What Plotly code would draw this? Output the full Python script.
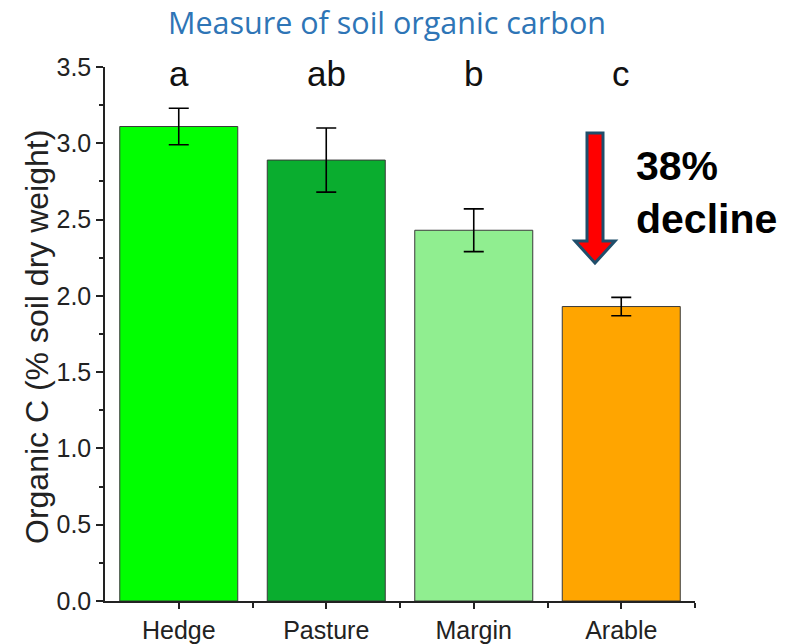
import plotly.graph_objects as go

categories = ["Hedge", "Pasture", "Margin", "Arable"]
values = [3.11, 2.89, 2.43, 1.93]
errors = [0.12, 0.21, 0.14, 0.06]
letters = ["a", "ab", "b", "c"]
colors = ["#00FF00", "#0AAD2F", "#90EE90", "#FFA500"]
y_ticks = [0.0, 0.5, 1.0, 1.5, 2.0, 2.5, 3.0, 3.5]

W, H = 785, 644
# target plot area in pixels: x 105..695, y 67..601
L, R, T, B = 105, W - 695, 67, H - 601
PW, PH = W - L - R, H - T - B

def px(xs_):
    return (xs_ - L) / PW

def py(ys_):
    return (H - B - ys_) / PH

xs = list(range(len(categories)))

fig = go.Figure()
fig.add_trace(go.Bar(
    x=xs, y=values, width=0.8,
    marker=dict(color=colors, line=dict(color="#3a3a3a", width=1)),
    error_y=dict(type="data", array=errors, visible=True, color="black",
                 thickness=1.6, width=10),
    showlegend=False,
))

for i, t in enumerate(letters):
    fig.add_annotation(x=i, y=py(73), xref="x", yref="paper", text=t, showarrow=False,
                       font=dict(family="Arial", size=35, color="#111"),
                       yanchor="middle")

# y-axis title
fig.add_annotation(x=px(37), y=py(337), xref="paper", yref="paper",
                   text="Organic C (% soil dry weight)", textangle=-90,
                   showarrow=False, xanchor="center", yanchor="middle",
                   font=dict(family="Arial", size=32, color="#222"))

# decorative arrow
cx = 595
shaft_hw = 8
head_hw = 20
top, head_top, tip = 133, 241, 263
path = (f"M {px(cx-shaft_hw)} {py(top)} L {px(cx+shaft_hw)} {py(top)} "
        f"L {px(cx+shaft_hw)} {py(head_top)} L {px(cx+head_hw)} {py(head_top)} "
        f"L {px(cx)} {py(tip)} L {px(cx-head_hw)} {py(head_top)} "
        f"L {px(cx-shaft_hw)} {py(head_top)} Z")
fig.add_shape(type="path", path=path, xref="paper", yref="paper",
              fillcolor="#FF0000", line=dict(color="#1F4E6B", width=3))

fig.add_annotation(x=px(634), y=py(192), xref="paper", yref="paper",
                   text="<b>38%<br>decline</b>", showarrow=False, align="left",
                   xanchor="left", yanchor="middle",
                   font=dict(family="Arial", size=41, color="black"))

fig.update_layout(
    width=W, height=H,
    margin=dict(l=L, r=R, t=T, b=B, autoexpand=False),
    plot_bgcolor="white", paper_bgcolor="white",
    title=dict(text="Measure of soil organic carbon", x=387 / W,
               xanchor="center", y=1 - 23 / H, yanchor="middle",
               yref="container", pad=dict(t=0, b=0),
               font=dict(family="Open Sans", size=30.5, color="#2E75B6")),
    xaxis=dict(range=[-0.5, 3.5], tickvals=xs, ticktext=categories,
               showline=True, linecolor="#222", linewidth=1.5, ticks="outside",
               ticklen=6, tickwidth=1.5, tickcolor="#222", showgrid=False,
               zeroline=False,
               tickfont=dict(family="Arial", size=25, color="#222"),
               minor=dict(tickvals=[0.5, 1.5, 2.5, 3.5], ticklen=5,
                          tickwidth=1.5, tickcolor="#222", ticks="outside")),
    yaxis=dict(range=[0, 3.5], tickvals=y_ticks,
               ticktext=[f"{v:.1f}" for v in y_ticks],
               showline=True, linecolor="#222", linewidth=1.5, ticks="outside",
               ticklen=7, tickwidth=1.5, tickcolor="#222", showgrid=False,
               zeroline=False,
               tickfont=dict(family="Arial", size=25, color="#222"),
               minor=dict(dtick=0.25, tick0=0, ticklen=4, tickwidth=1.5,
                          tickcolor="#222", ticks="outside")),
)

fig.write_html("out.html", config={"displayModeBar": False},
               post_script="document.body.style.margin='0';")
